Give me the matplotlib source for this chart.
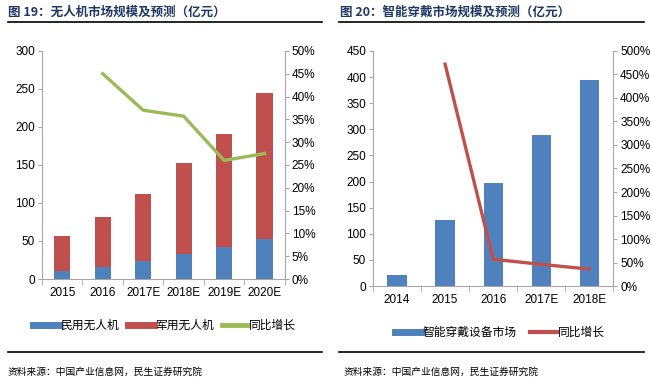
import numpy as np
import matplotlib
matplotlib.use('Agg')
import matplotlib.pyplot as plt
from matplotlib.lines import Line2D
from matplotlib.ticker import FuncFormatter

plt.rcParams['font.family'] = ['Liberation Sans Narrow', 'Liberation Sans', 'Noto Sans CJK SC', 'DejaVu Sans']
CJK = ['Noto Sans CJK SC', 'DejaVu Sans']

# 图19 无人机市场
years1 = ['2015', '2016', '2017E', '2018E', '2019E', '2020E']
civil = [10, 16, 24, 33, 42, 53]
military = [47, 66, 88, 119, 149, 191]
growth1 = [np.nan, 45, 37, 35.7, 26, 27.5]

# 图20 智能穿戴
years2 = ['2014', '2015', '2016', '2017E', '2018E']
wear = [22, 126, 198, 289, 394]
growth2 = [np.nan, 472, 57, 46, 36]

blue = '#4F81BD'
red = '#C0504D'
green = '#9BBB59'
grey = '#A6A6A6'
title_c = '#1F3864'

fig = plt.figure(figsize=(6.51, 3.84), dpi=100)


def style(ax, ax2, n):
    for s in ['top', 'right']:
        ax.spines[s].set_visible(False)
    for s in ['top', 'left']:
        ax2.spines[s].set_visible(False)
    ax.spines['left'].set_color(grey)
    ax.spines['bottom'].set_color(grey)
    ax2.spines['right'].set_color(grey)
    ax2.spines['bottom'].set_visible(False)
    ax.tick_params(axis='y', colors=grey, labelcolor='black', labelsize=8.5, length=3, pad=2)
    ax2.tick_params(axis='y', colors=grey, labelcolor='black', labelsize=8.5, length=3, pad=2)
    ax.set_xticks(range(n))
    ax.set_xticks(np.arange(-0.5, n, 1), minor=True)
    ax.tick_params(axis='x', which='major', length=0, labelsize=8.5, pad=6)
    ax.tick_params(axis='x', which='minor', length=4, color=grey)
    ax.set_xlim(-0.5, n - 0.5)


# left chart
ax = fig.add_axes([0.0645, 0.2734, 0.373, 0.594])
ax2 = ax.twinx()
x1 = np.arange(len(years1))
ax.bar(x1, civil, 0.4, color=blue)
ax.bar(x1, military, 0.4, bottom=civil, color=red)
ax2.plot(x1, growth1, color=green, lw=2.4)
ax.set_ylim(0, 300)
ax.set_yticks(range(0, 301, 50))
ax2.set_ylim(0, 50)
ax2.set_yticks(range(0, 51, 5))
ax2.yaxis.set_major_formatter(FuncFormatter(lambda v, p: '%d%%' % v))
ax.set_xticklabels(years1)
style(ax, ax2, len(years1))

# right chart
bx = fig.add_axes([0.573, 0.2552, 0.369, 0.612])
bx2 = bx.twinx()
x2 = np.arange(len(years2))
bx.bar(x2, wear, 0.4, color=blue)
bx2.plot(x2, growth2, color=red, lw=2.4)
bx.set_ylim(0, 450)
bx.set_yticks(range(0, 451, 50))
bx2.set_ylim(0, 500)
bx2.set_yticks(range(0, 501, 50))
bx2.yaxis.set_major_formatter(FuncFormatter(lambda v, p: '%d%%' % v))
bx.set_xticklabels(years2)
style(bx, bx2, len(years2))

# titles
fig.text(0.012, 0.968, '图 19：无人机市场规模及预测（亿元）', family=CJK, fontsize=9,
         color=title_c, weight='bold', va='center')
fig.text(0.522, 0.968, '图 20：智能穿戴市场规模及预测（亿元）', family=CJK, fontsize=9,
         color=title_c, weight='bold', va='center')
for x0, x1_ in [(0.012, 0.495), (0.52, 0.99)]:
    fig.add_artist(Line2D([x0, x1_], [0.943, 0.943], color='black', lw=1.2))
    fig.add_artist(Line2D([x0, x1_], [0.083, 0.083], color='black', lw=1.2))

# legends
h1 = [Line2D([], [], color=blue, lw=5), Line2D([], [], color=red, lw=5),
      Line2D([], [], color=green, lw=3.5)]
fig.legend(h1, ['民用无人机', '军用无人机', '同比增长'], loc='center',
           bbox_to_anchor=(0.253, 0.153), ncol=3, frameon=False,
           prop={'family': CJK, 'size': 8.5}, handlelength=2.2, handletextpad=0.1,
           columnspacing=0.7)
h2 = [Line2D([], [], color=blue, lw=5), Line2D([], [], color=red, lw=3)]
fig.legend(h2, ['智能穿戴设备市场', '同比增长'], loc='center',
           bbox_to_anchor=(0.768, 0.135), ncol=2, frameon=False,
           prop={'family': CJK, 'size': 8.5}, handlelength=2.3, handletextpad=0.1,
           columnspacing=1.1)

# sources
fig.text(0.012, 0.032, '资料来源：中国产业信息网，民生证券研究院', family=CJK, fontsize=7, va='center')
fig.text(0.527, 0.032, '资料来源：中国产业信息网，民生证券研究院', family=CJK, fontsize=7, va='center')

fig.savefig('out.png', dpi=100)
